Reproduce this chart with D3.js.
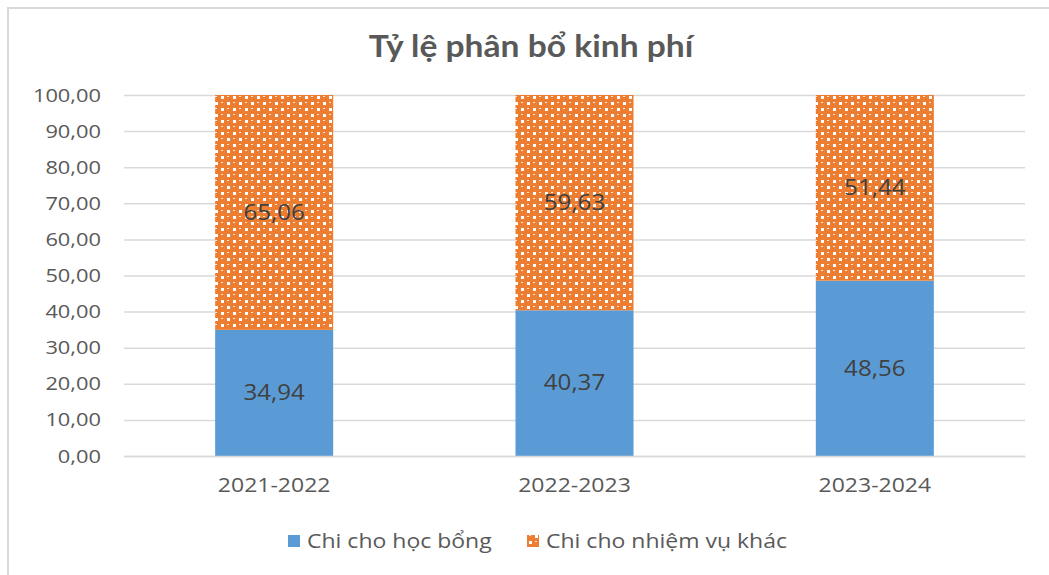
<!DOCTYPE html>
<html>
<head>
<meta charset="utf-8">
<script src="https://cdn.jsdelivr.net/npm/d3@7"></script>
<style>
  body { margin: 0; background: #fff; }
  text { font-family: "Open Sans", "DejaVu Sans", sans-serif; }
</style>
</head>
<body>
<div id="chart"></div>
<script>
// data
var years = ["2021-2022", "2022-2023", "2023-2024"];
var hocBong = [34.94, 40.37, 48.56];
var nhiemVuKhac = [65.06, 59.63, 51.44];
var seriesNames = ["Chi cho học bổng", "Chi cho nhiệm vụ khác"];
var yTicks = [0, 10, 20, 30, 40, 50, 60, 70, 80, 90, 100];

var W = 1049, H = 575;
var margin = {top: 95, right: 24, bottom: 119, left: 124},
    width = W - margin.left - margin.right,
    height = H - margin.top - margin.bottom;

// the source text is a bit wider than these fonts
var stretch = "scale(1.15,1)";

var fmt = function(v) { return d3.format(".2f")(v).replace(".", ","); };

var svg = d3.select("#chart").append("svg")
    .attr("width", W)
    .attr("height", H);

// dotted pattern for the second series
var defs = svg.append("defs");
var pat = defs.append("pattern")
    .attr("id", "dots")
    .attr("patternUnits", "userSpaceOnUse")
    .attr("width", 12)
    .attr("height", 12);
pat.append("rect").attr("width", 12).attr("height", 12).attr("fill", "#ED7D31");
pat.append("rect").attr("x", 1).attr("y", 1).attr("width", 3).attr("height", 3).attr("fill", "#fff");
pat.append("rect").attr("x", 7).attr("y", 7).attr("width", 3).attr("height", 3).attr("fill", "#fff");
pat.append("rect").attr("x", 7).attr("y", 1).attr("width", 2).attr("height", 1).attr("fill", "#fde5d3");
pat.append("rect").attr("x", 1).attr("y", 7).attr("width", 2).attr("height", 1).attr("fill", "#fde5d3");

// chart border
svg.append("path")
    .attr("d", "M8,576 L8,8 L1049,8")
    .attr("fill", "none")
    .attr("stroke", "#d9d9d9")
    .attr("stroke-width", 2);

svg.append("text")
    .attr("transform", "translate(531,57) scale(1.12,1)")
    .attr("text-anchor", "middle")
    .attr("fill", "#595959")
    .style("font-family", "Lato, 'Open Sans', sans-serif")
    .style("font-weight", "bold")
    .style("font-size", "30px")
    .text("Tỷ lệ phân bổ kinh phí");

var g = svg.append("g")
    .attr("transform", "translate(" + margin.left + "," + margin.top + ")");

// set the ranges
var x = d3.scaleBand()
    .domain(years)
    .range([0, width])
    .paddingInner(0.607)
    .paddingOuter(0.3035);
var y = d3.scaleLinear()
    .domain([0, 100])
    .range([height, 0]);

// gridlines + y labels
var yAxis = g.append("g")
    .call(d3.axisLeft(y).tickValues(yTicks).tickSize(-width).tickPadding(20).tickFormat(fmt));
yAxis.select(".domain").remove();
yAxis.selectAll("line").attr("stroke", "#d9d9d9").attr("stroke-width", 1.5);
yAxis.selectAll("text")
    .attr("fill", "#595959")
    .attr("transform", stretch)
    .style("font-size", "19px")
    .style("font-family", "'Open Sans', sans-serif");

var rows = years.map(function(yr, i) {
    return {year: yr, a: hocBong[i], b: nhiemVuKhac[i]};
});

// bars: first series
g.selectAll(".barA")
    .data(rows)
    .enter().append("rect")
    .attr("class", "barA")
    .attr("x", function(d) { return x(d.year); })
    .attr("width", x.bandwidth())
    .attr("y", function(d) { return y(d.a); })
    .attr("height", function(d) { return height - y(d.a); })
    .attr("fill", "#5B9BD5");

// bars: second series, stacked
g.selectAll(".barB")
    .data(rows)
    .enter().append("rect")
    .attr("class", "barB")
    .attr("x", function(d) { return x(d.year); })
    .attr("width", x.bandwidth())
    .attr("y", function(d) { return y(d.a + d.b); })
    .attr("height", function(d) { return y(d.a) - y(d.a + d.b); })
    .attr("fill", "url(#dots)");

// value labels
g.selectAll(".labA")
    .data(rows)
    .enter().append("text")
    .attr("transform", function(d) {
        return "translate(" + (x(d.year) + x.bandwidth() / 2) + "," + y(d.a / 2) + ") " + stretch;
    })
    .attr("dy", "0.35em")
    .attr("text-anchor", "middle")
    .attr("fill", "#404040")
    .style("font-size", "21px")
    .text(function(d) { return fmt(d.a); });

g.selectAll(".labB")
    .data(rows)
    .enter().append("text")
    .attr("transform", function(d) {
        return "translate(" + (x(d.year) + x.bandwidth() / 2) + "," + y(d.a + d.b / 2) + ") " + stretch;
    })
    .attr("dy", "0.35em")
    .attr("text-anchor", "middle")
    .attr("fill", "#404040")
    .style("font-size", "21px")
    .text(function(d) { return fmt(d.b); });

// x axis
var xAxis = g.append("g")
    .attr("transform", "translate(0," + height + ")")
    .call(d3.axisBottom(x).tickSize(0).tickPadding(22));
xAxis.select(".domain").attr("stroke", "#d9d9d9").attr("stroke-width", 1.5);
xAxis.selectAll("text")
    .attr("fill", "#595959")
    .attr("transform", stretch)
    .style("font-size", "20px")
    .style("font-family", "'Open Sans', sans-serif");

// legend
var legend = svg.append("g");
var legX = [288, 527];
var legFill = ["#5B9BD5", "url(#dots)"];
seriesNames.forEach(function(name, i) {
    legend.append("rect")
        .attr("x", legX[i])
        .attr("y", 535)
        .attr("width", 12)
        .attr("height", 12)
        .attr("fill", legFill[i]);
    legend.append("text")
        .attr("transform", "translate(" + (legX[i] + 19) + ",541) " + stretch)
        .attr("dy", "0.35em")
        .attr("fill", "#595959")
        .style("font-size", "20px")
        .text(name);
});
</script>
</body>
</html>
